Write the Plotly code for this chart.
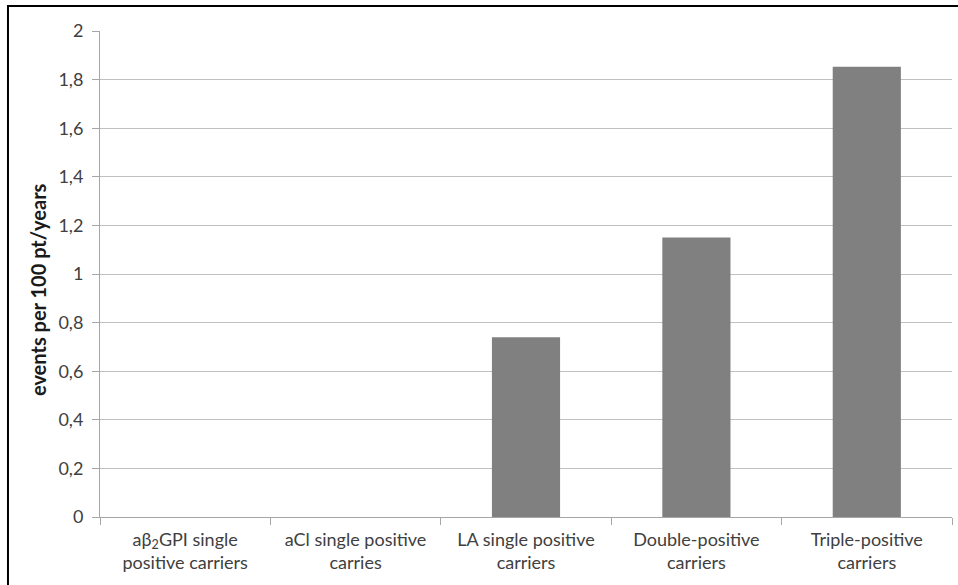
import plotly.graph_objects as go

categories = ["aβ<sub>2</sub>GPI single<br>positive carriers", "aCl single positive<br>carries",
              "LA single positive<br>carriers", "Double-positive<br>carriers", "Triple-positive<br>carriers"]
values = [0, 0, 0.74, 1.15, 1.853]
ytick_vals = [0, 0.2, 0.4, 0.6, 0.8, 1, 1.2, 1.4, 1.6, 1.8, 2]
ytick_text = ["0", "0,2", "0,4", "0,6", "0,8", "1", "1,2", "1,4", "1,6", "1,8", "2"]
y_title = "events per 100 pt/years"

font = "Lato, 'Open Sans', sans-serif"

fig = go.Figure(go.Bar(x=categories, y=values, marker=dict(color="#808080", line=dict(width=0)), width=0.4))

fig.update_layout(
    width=958, height=585,
    margin=dict(l=100, r=6, t=31, b=68, autoexpand=False),
    paper_bgcolor="white", plot_bgcolor="white",
    showlegend=False,
    font=dict(family=font, size=18, color="#404040"),
    xaxis=dict(showline=True, linecolor="#a6a6a6", linewidth=1,
               ticks="outside", tickson="boundaries", ticklen=7, tickcolor="#a6a6a6",
               ticklabelstandoff=6,
               tickfont=dict(size=18, color="#404040"), showgrid=False),
    yaxis=dict(range=[0, 2], tickvals=ytick_vals, ticktext=ytick_text,
               showline=True, linecolor="#a6a6a6", linewidth=1,
               ticks="outside", ticklen=7, tickcolor="#a6a6a6", ticklabelstandoff=5,
               showgrid=True, gridcolor="#c0c0c0", gridwidth=1, zeroline=False,
               tickfont=dict(size=18, color="#404040")),
    annotations=[dict(text="<b>" + y_title + "</b>", xref="paper", yref="paper",
                      x=-0.0728, y=0.469, xanchor="center", yanchor="middle", textangle=-90,
                      showarrow=False, font=dict(size=20, color="#1a1a1a"))],
    shapes=[dict(type="rect", xref="paper", yref="paper", x0=-0.108, x1=1.2, y0=-0.4, y1=1.0514,
                 line=dict(color="black", width=2), fillcolor="rgba(0,0,0,0)")],
)

fig.write_html("out.html", config={"displayModeBar": False},
               post_script="document.body.style.margin='0';document.body.style.padding='0';")
